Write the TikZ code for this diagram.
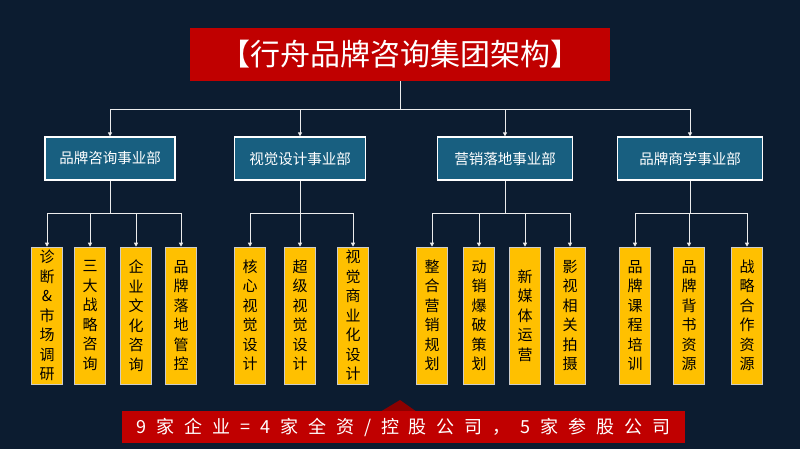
\documentclass[tikz,border=0pt]{standalone}
\usepackage{fontspec}
\setmainfont{Noto Sans CJK SC}
\newfontfamily\cjkwide[LetterSpace=55]{Noto Sans CJK SC}
\usetikzlibrary{arrows.meta}
\definecolor{bgblue}{RGB}{12,28,48}
\definecolor{titlered}{RGB}{192,0,0}
\definecolor{deptblue}{RGB}{24,95,128}
\definecolor{leafgold}{RGB}{255,192,0}
\definecolor{foldred}{RGB}{140,0,0}
\tikzset{
  dept/.style={draw=white,line width=1.2pt,fill=deptblue,text=white,minimum width=130pt,minimum height=43pt,font=\fontsize{14.5}{16}\selectfont,inner sep=0pt},
  leaf/.style={draw=white!80!black,line width=0.6pt,fill=leafgold,text=black,minimum width=31pt,minimum height=137pt,inner sep=0pt,align=center,font=\fontsize{15}{19.5}\selectfont},
  conn/.style={draw=white!85!gray,line width=0.8pt},
  arr/.style={conn,-{Triangle[width=4pt,length=4pt]}}
}
\begin{document}
\begin{tikzpicture}[x=1pt,y=-1pt]
        \fill[bgblue] (0,0) rectangle (800,449);
        \useasboundingbox (0,0) rectangle (800,449);

        % title
        \node[fill=titlered,text=white,minimum width=420pt,minimum height=53pt,inner sep=0pt,font=\fontsize{30}{32}\selectfont] (title) at (400,54.5) {【行舟品牌咨询集团架构】};

        % departments
        \node[dept] (d1) at (110,158.5) {品牌咨询事业部};
        \node[dept,minimum width=131pt] (d2) at (300,158.5) {视觉设计事业部};
        \node[dept,minimum width=135pt] (d3) at (505,158.5) {营销落地事业部};
        \node[dept,minimum width=145pt] (d4) at (690,158.5) {品牌商学事业部};

        % leaves
        \node[leaf] (l11) at (47,315.5) {诊\\断\\\&\\市\\场\\调\\研};
        \node[leaf] (l12) at (90,315.5) {三\\大\\战\\略\\咨\\询};
        \node[leaf] (l13) at (136,315.5) {企\\业\\文\\化\\咨\\询};
        \node[leaf] (l14) at (181,315.5) {品\\牌\\落\\地\\管\\控};
        \node[leaf] (l21) at (250,315.5) {核\\心\\视\\觉\\设\\计};
        \node[leaf] (l22) at (300,315.5) {超\\级\\视\\觉\\设\\计};
        \node[leaf] (l23) at (353,315.5) {视\\觉\\商\\业\\化\\设\\计};
        \node[leaf] (l31) at (432,315.5) {整\\合\\营\\销\\规\\划};
        \node[leaf] (l32) at (479,315.5) {动\\销\\爆\\破\\策\\划};
        \node[leaf] (l33) at (525,315.5) {新\\媒\\体\\运\\营};
        \node[leaf] (l34) at (570,315.5) {影\\视\\相\\关\\拍\\摄};
        \node[leaf] (l41) at (635,315.5) {品\\牌\\课\\程\\培\\训};
        \node[leaf] (l42) at (689,315.5) {品\\牌\\背\\书\\资\\源};
        \node[leaf] (l43) at (747,315.5) {战\\略\\合\\作\\资\\源};

        % connectors
        \draw[conn] (title.south) -- ++(0,28) coordinate (bus);
        \foreach \d in {d1,d2,d3,d4}
            \draw[arr] (bus) -| (\d.north);
        \draw[conn] (d1.south) -- ++(0,33) coordinate (b1);
        \foreach \l in {l11,l12,l13,l14}
            \draw[arr] (b1) -| (\l.north);
        \draw[conn] (d2.south) -- ++(0,33) coordinate (b2);
        \foreach \l in {l21,l22,l23}
            \draw[arr] (b2) -| (\l.north);
        \draw[conn] (d3.south) -- ++(0,33) coordinate (b3);
        \foreach \l in {l31,l32,l33,l34}
            \draw[arr] (b3) -| (\l.north);
        \draw[conn] (d4.south) -- ++(0,33) coordinate (b4);
        \foreach \l in {l41,l42,l43}
            \draw[arr] (b4) -| (\l.north);

        % banner
        \fill[foldred] (380,412) -- (400,400) -- (417,412) -- cycle;
        \node[fill=titlered,text=white,minimum width=563pt,minimum height=32pt,inner sep=0pt,font=\cjkwide\fontsize{18}{20}\selectfont] (banner) at (403.5,427) {9家企业=4家全资/控股公司，5家参股公司};
\end{tikzpicture}
\end{document}
